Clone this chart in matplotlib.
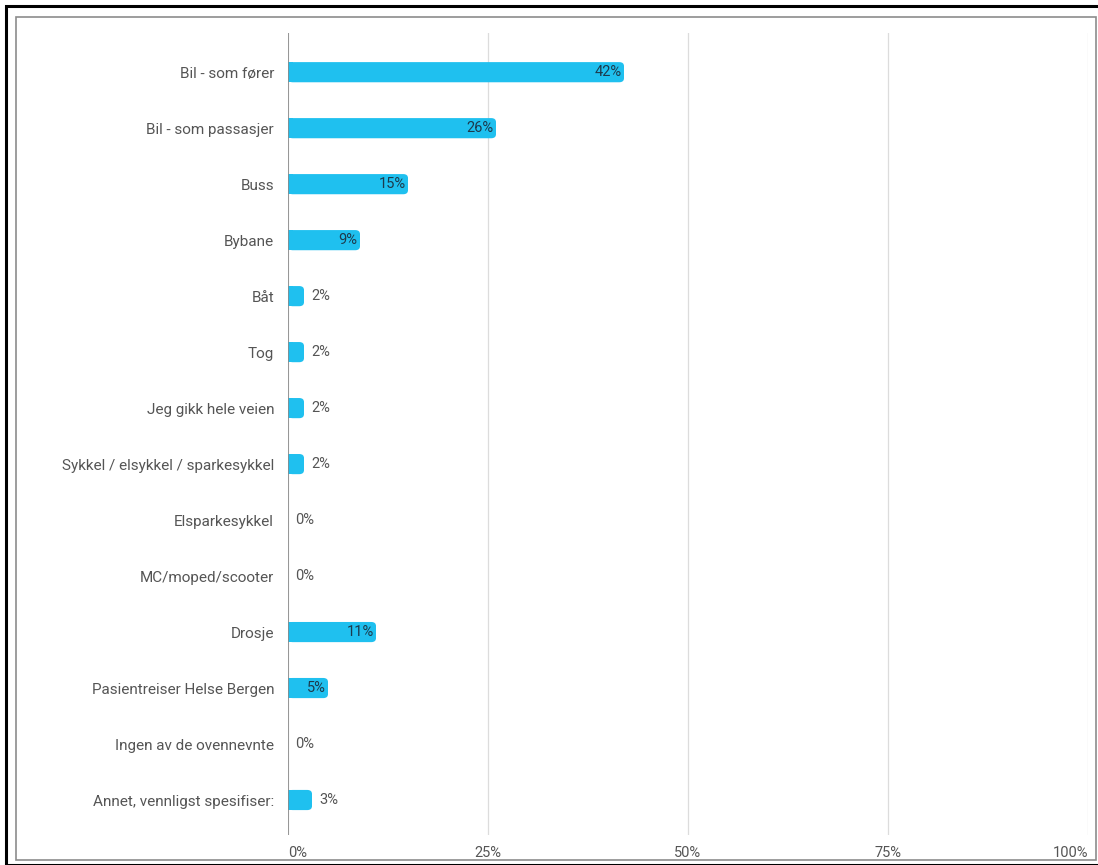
import matplotlib.pyplot as plt
from matplotlib.patches import Rectangle, FancyBboxPatch
from matplotlib.transforms import ScaledTranslation

plt.rcParams['font.family'] = ['Roboto', 'DejaVu Sans']

categories = [
    'Bil - som fører',
    'Bil - som passasjer',
    'Buss',
    'Bybane',
    'Båt',
    'Tog',
    'Jeg gikk hele veien',
    'Sykkel / elsykkel / sparkesykkel',
    'Elsparkesykkel',
    'MC/moped/scooter',
    'Drosje',
    'Pasientreiser Helse Bergen',
    'Ingen av de ovennevnte',
    'Annet, vennligst spesifiser:',
]
values = [42, 26, 15, 9, 2, 2, 2, 2, 0, 0, 11, 5, 0, 3]
x_ticks = [0, 25, 50, 75, 100]
x_tick_labels = ['0%', '25%', '50%', '75%', '100%']

bar_color = '#1fc0ef'
text_color = '#555555'

fig = plt.figure(figsize=(10.98, 8.65), dpi=100)
W, H = 1098, 865

# frame around the image: black outer line, gray inner line
fig.patches.append(Rectangle((6 / W, 0), 1, 1 - 6 / H, transform=fig.transFigure,
                             fill=False, edgecolor='black', linewidth=2.2))
fig.patches.append(Rectangle((16 / W, 1 - 860 / H), (1096 - 16) / W, (860 - 17) / H,
                             transform=fig.transFigure, fill=False,
                             edgecolor='#8c8c8c', linewidth=1.2))

ax = fig.add_axes([288 / W, 1 - 835 / H, 800 / W, (835 - 33) / H])

y = list(range(len(categories)))
bars = ax.barh(y, values, height=0.36, color=bar_color, zorder=3)

# rounded right end on the bars
for b in bars:
    w = b.get_width()
    if w <= 0:
        continue
    b.set_visible(False)
    r = min(0.6, w / 2)
    ax.add_patch(FancyBboxPatch((b.get_x(), b.get_y()), w, b.get_height(),
                                boxstyle=f'round,pad=0,rounding_size={r}',
                                mutation_aspect=0.12, facecolor=bar_color,
                                edgecolor='none', zorder=3))
    ax.add_patch(Rectangle((b.get_x(), b.get_y()), r, b.get_height(),
                           facecolor=bar_color, edgecolor='none', zorder=3))

for yi, v in zip(y, values):
    if v >= 5:
        ax.text(v - 0.3, yi, f'{v}%', ha='right', va='center',
                fontsize=10.5, color='#1d3a4c', zorder=4)
    else:
        ax.text(v + 0.9, yi, f'{v}%', ha='left', va='center',
                fontsize=10.5, color=text_color, zorder=4)

ax.set_xlim(0, 100)
ax.set_ylim(len(categories) - 1 + 0.625, -0.7)

ax.set_yticks(y)
ax.set_yticklabels(categories, fontsize=11, color=text_color)
ax.set_xticks(x_ticks)
ax.set_xticklabels(x_tick_labels, fontsize=10.5, color=text_color)
xl = ax.get_xticklabels()
xl[0].set_ha('left')
xl[-1].set_ha('right')
xl[-1].set_transform(xl[-1].get_transform() + ScaledTranslation(5 / 100, 0, fig.dpi_scale_trans))
ax.tick_params(axis='y', length=0, pad=10)
ax.tick_params(axis='x', length=0, pad=8)

ax.grid(axis='x', color='#dcdcdc', linewidth=0.9, zorder=0)
ax.axvline(0, color='#8a8a8a', linewidth=1.2, zorder=5)
for s in ax.spines.values():
    s.set_visible(False)

fig.savefig('out.png', dpi=100)
